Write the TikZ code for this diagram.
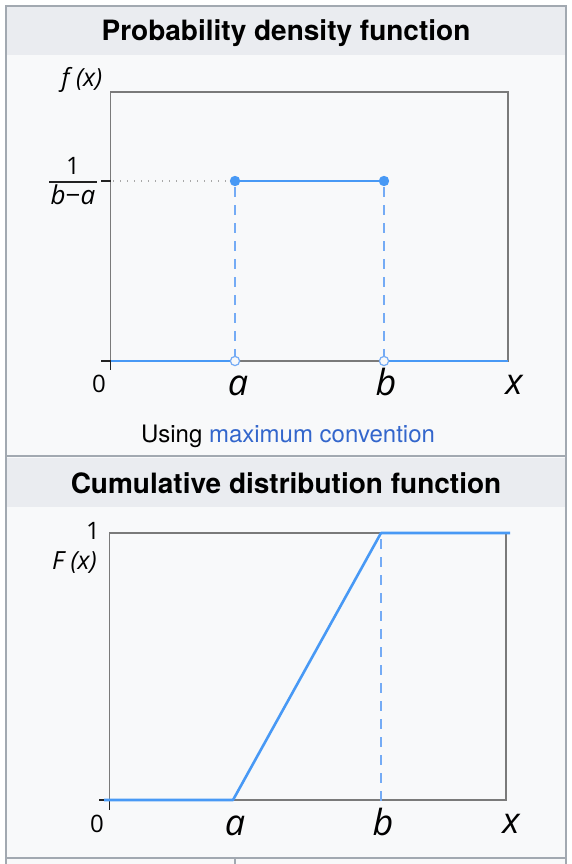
\documentclass[tikz,border=0pt]{standalone}
\usepackage{fontspec}
\setmainfont{TeX Gyre Heros}
\newfontfamily\plotfont{Open Sans}
\definecolor{bordergray}{HTML}{A2A9B1}
\definecolor{panelbg}{HTML}{F8F9FA}
\definecolor{headbg}{HTML}{EAECF0}
\definecolor{framegray}{HTML}{7A7A7A}
\definecolor{tickgray}{HTML}{222222}
\definecolor{plotblue}{HTML}{4899F5}
\definecolor{guideblue}{HTML}{74ABF5}
\definecolor{dotgray}{HTML}{A8A8A8}
\definecolor{linkblue}{HTML}{3366CC}
\begin{document}
\begin{tikzpicture}[x=1pt,y=-1pt,
  border/.style={draw=bordergray,line width=2pt},
  frame/.style={draw=framegray,line width=1.4pt},
  tick/.style={draw=tickgray,line width=1.4pt},
  curve/.style={draw=plotblue,line width=2.6pt,line join=round},
  guide/.style={draw=guideblue,line width=1.6pt,dash pattern=on 10pt off 8pt},
  dotguide/.style={draw=dotgray,line width=1.4pt,dash pattern=on 1.4pt off 5.6pt},
  title/.style={font=\bfseries\fontsize{28}{30}\selectfont,anchor=base,inner sep=0pt},
  lab/.style={font=\plotfont\itshape\fontsize{36}{40}\selectfont,anchor=base,inner sep=0pt},
  num/.style={font=\plotfont\fontsize{24}{28}\selectfont,anchor=base,inner sep=0pt},
  fxlab/.style={font=\plotfont\itshape\fontsize{25}{27}\selectfont,anchor=base,inner sep=0pt},
  fraclab/.style={font=\plotfont\fontsize{26}{28}\selectfont,anchor=base,inner sep=0pt},
  caption/.style={font=\fontsize{24}{26}\selectfont,anchor=base,inner sep=0pt},
  opendot/.style={draw=guideblue,fill=panelbg,line width=1.2pt},
]
\useasboundingbox (0,0) rectangle (572,864);
\fill[white] (0,0) rectangle (572,864);
\fill[panelbg] (6,6) rectangle (566,864);
\fill[headbg] (7,7) rectangle (565,55);
\fill[headbg] (7,458) rectangle (565,507);
\draw[border] (6,864) -- (6,6) -- (566,6) -- (566,864);
\draw[border] (6,456) -- (566,456);
\draw[border] (6,858) -- (566,858);
\draw[border] (235,858) -- (235,864);

% titles
\node[title] (t1) at (286,41) {Probability density function};
\node[title] (t2) at (286,493) {Cumulative distribution function};

% ---------- PDF ----------
\coordinate (p0) at (110.5,361);
\coordinate (pA) at (235,361);
\coordinate (pB) at (384,361);
\coordinate (pE) at (508,361);
\coordinate (qA) at (235,181);
\coordinate (qB) at (384,181);
\draw[frame] (110.5,92) rectangle (508,361);
\draw[dotguide] (113,181) -- (230,181);
\draw[tick] (101,181) -- (110.5,181);
\draw[tick] (101,361) -- (p0) -- (110.5,370);
\draw[guide] (235,187) -- (235,356);
\draw[guide] (384,187) -- (384,356);
\draw[curve] (qA) -- (qB);
\draw[curve] (p0) -- (230,361);
\draw[curve] (389,361) -- (pE);
\fill[plotblue] (qA) circle (5.2);
\fill[plotblue] (qB) circle (5.2);
\draw[opendot] (pA) circle (4.6);
\draw[opendot] (pB) circle (4.6);

\node[fxlab] (fx) at (82,87) {f (x)};
\node[num] (one1) at (73,174) {1};
\draw[tick] (49,182) -- (97,182);
\node[fraclab] (bma) at (73,204) {{\itshape b}−{\itshape a}};
\node[num] (z1) at (99,392) {0};
\node[lab] (la1) at (238,395) {a};
\node[lab] (lb1) at (386,395) {b};
\node[lab] (lx1) at (514,394) {x};
\node[caption] (cap) at (288,442) {Using \textcolor{linkblue}{maximum convention}};

% ---------- CDF ----------
\coordinate (c0) at (109.5,800);
\coordinate (cA) at (233,800);
\coordinate (cB) at (381,533);
\coordinate (cE) at (510,533);
\draw[frame] (109.5,533) rectangle (506,800);
\draw[tick] (99,800) -- (c0) -- (109.5,810);
\draw[guide] (381,539) -- (381,806);
\draw[curve] (104,800) -- (cA) -- (cB) -- (cE);
\node[num,anchor=base east] (one2) at (100,539) {1};
\node[fxlab,anchor=base east] (Fx) at (97,569) {F (x)};
\node[num] (z2) at (97,832) {0};
\node[lab] (la2) at (235,835) {a};
\node[lab] (lb2) at (383,835) {b};
\node[lab] (lx2) at (511,833) {x};
\end{tikzpicture}
\end{document}
